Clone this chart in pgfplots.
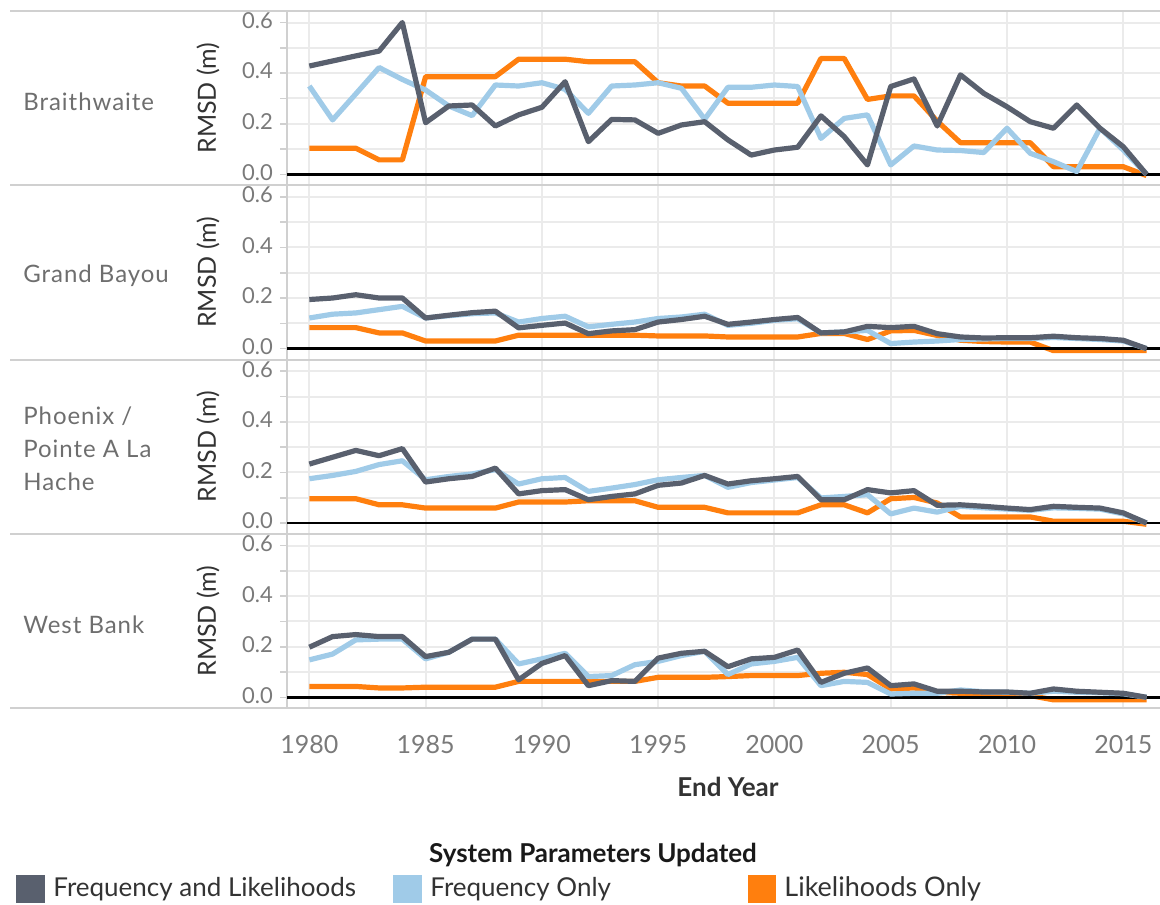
\documentclass[border=0pt]{standalone}
\usepackage{fontspec}
\setmainfont{Lato}
\newfontfamily\rowfont[LetterSpace=4]{Lato}
\usepackage{pgfplots}
\usepackage{pgfplotstable}
\pgfplotsset{compat=1.18}

\definecolor{cfl}{HTML}{59606E}
\definecolor{cfo}{HTML}{A0CBE8}
\definecolor{clo}{HTML}{FF7F0E}
\definecolor{gridc}{HTML}{EBEBEB}
\definecolor{sepc}{HTML}{D0D0D0}
\definecolor{tickc}{HTML}{7A7A7A}
\definecolor{rowc}{HTML}{6E6E6E}
\definecolor{titc}{HTML}{333333}

% Braithwaite
\pgfplotstableread{
year fl fo lo
1980 0.428 0.349 0.103
1981 0.448 0.215 0.103
1982 0.468 0.318 0.103
1983 0.487 0.422 0.057
1984 0.600 0.375 0.057
1985 0.204 0.333 0.386
1986 0.270 0.270 0.386
1987 0.274 0.232 0.386
1988 0.191 0.353 0.386
1989 0.235 0.349 0.455
1990 0.265 0.362 0.455
1991 0.366 0.336 0.455
1992 0.129 0.241 0.445
1993 0.217 0.349 0.445
1994 0.215 0.353 0.445
1995 0.162 0.362 0.362
1996 0.195 0.340 0.349
1997 0.208 0.218 0.349
1998 0.136 0.344 0.281
1999 0.076 0.344 0.281
2000 0.096 0.353 0.281
2001 0.107 0.347 0.281
2002 0.231 0.142 0.458
2003 0.149 0.221 0.458
2004 0.037 0.235 0.296
2005 0.347 0.037 0.310
2006 0.377 0.112 0.310
2007 0.191 0.096 0.210
2008 0.393 0.094 0.125
2009 0.320 0.086 0.125
2010 0.267 0.182 0.125
2011 0.208 0.083 0.125
2012 0.182 0.050 0.030
2013 0.274 0.011 0.030
2014 0.182 0.182 0.030
2015 0.109 0.096 0.030
2016 0.000 0.000 -0.005
}\dataA

% Grand Bayou
\pgfplotstableread{
year fl fo lo
1980 0.194 0.121 0.083
1981 0.200 0.136 0.083
1982 0.213 0.141 0.083
1983 0.200 0.154 0.062
1984 0.200 0.167 0.062
1985 0.121 0.121 0.030
1986 0.132 0.130 0.030
1987 0.142 0.138 0.030
1988 0.148 0.141 0.030
1989 0.082 0.105 0.053
1990 0.092 0.119 0.053
1991 0.101 0.128 0.053
1992 0.059 0.086 0.053
1993 0.070 0.096 0.053
1994 0.075 0.105 0.053
1995 0.105 0.119 0.050
1996 0.115 0.125 0.050
1997 0.128 0.136 0.050
1998 0.096 0.092 0.046
1999 0.105 0.100 0.046
2000 0.115 0.112 0.046
2001 0.123 0.118 0.046
2002 0.062 0.062 0.060
2003 0.066 0.066 0.060
2004 0.088 0.072 0.036
2005 0.083 0.020 0.070
2006 0.088 0.026 0.072
2007 0.059 0.030 0.052
2008 0.046 0.036 0.033
2009 0.042 0.038 0.028
2010 0.043 0.040 0.026
2011 0.043 0.040 0.026
2012 0.049 0.044 -0.008
2013 0.043 0.040 -0.008
2014 0.040 0.036 -0.008
2015 0.033 0.030 -0.008
2016 0.000 0.000 -0.008
}\dataB

% Phoenix / Pointe A La Hache
\pgfplotstableread{
year fl fo lo
1980 0.233 0.175 0.096
1981 0.260 0.188 0.096
1982 0.287 0.204 0.096
1983 0.266 0.231 0.072
1984 0.294 0.246 0.072
1985 0.162 0.171 0.059
1986 0.175 0.184 0.059
1987 0.184 0.194 0.059
1988 0.217 0.211 0.059
1989 0.115 0.154 0.083
1990 0.128 0.175 0.083
1991 0.132 0.180 0.083
1992 0.092 0.125 0.088
1993 0.105 0.138 0.088
1994 0.115 0.152 0.088
1995 0.149 0.171 0.062
1996 0.158 0.180 0.062
1997 0.188 0.188 0.062
1998 0.154 0.141 0.040
1999 0.167 0.160 0.040
2000 0.175 0.170 0.040
2001 0.184 0.180 0.040
2002 0.092 0.099 0.072
2003 0.092 0.105 0.072
2004 0.132 0.112 0.040
2005 0.119 0.036 0.096
2006 0.128 0.059 0.101
2007 0.070 0.043 0.079
2008 0.072 0.066 0.024
2009 0.066 0.060 0.024
2010 0.059 0.055 0.024
2011 0.053 0.050 0.024
2012 0.066 0.060 0.007
2013 0.062 0.058 0.007
2014 0.059 0.055 0.007
2015 0.040 0.036 0.007
2016 0.000 0.000 -0.005
}\dataC

% West Bank
\pgfplotstableread{
year fl fo lo
1980 0.198 0.148 0.043
1981 0.240 0.171 0.043
1982 0.248 0.227 0.043
1983 0.240 0.230 0.037
1984 0.240 0.230 0.037
1985 0.161 0.152 0.040
1986 0.178 0.178 0.040
1987 0.230 0.230 0.040
1988 0.230 0.230 0.040
1989 0.069 0.132 0.063
1990 0.134 0.152 0.063
1991 0.165 0.174 0.063
1992 0.046 0.082 0.063
1993 0.066 0.086 0.063
1994 0.063 0.129 0.063
1995 0.155 0.142 0.079
1996 0.174 0.165 0.079
1997 0.182 0.182 0.079
1998 0.121 0.090 0.082
1999 0.152 0.132 0.086
2000 0.158 0.142 0.086
2001 0.187 0.158 0.086
2002 0.059 0.046 0.095
2003 0.095 0.063 0.099
2004 0.116 0.059 0.090
2005 0.046 0.013 0.033
2006 0.053 0.016 0.037
2007 0.024 0.016 0.020
2008 0.024 0.029 0.016
2009 0.021 0.022 0.013
2010 0.021 0.020 0.013
2011 0.016 0.016 0.007
2012 0.033 0.024 -0.010
2013 0.024 0.020 -0.010
2014 0.020 0.018 -0.010
2015 0.016 0.014 -0.010
2016 0.000 0.000 -0.010
}\dataD

\pgfplotsset{panel/.style={
  anchor=north west, width=436.5pt, height=87pt, scale only axis,
  xmin=1979.04, xmax=2016.58, ymin=-0.0423, ymax=0.6455,
  axis lines*=left,
  x axis line style={draw=none},
  y axis line style={draw=sepc, line width=1pt},
  xtick={1980,1985,1990,1995,2000,2005,2010,2015},
  ytick={0,0.2,0.4,0.6}, minor ytick={0.1,0.3,0.5},
  yticklabels={0.0,0.2,0.4,0.6}, xticklabels={},
  grid=both,
  major grid style={draw=gridc, line width=1pt},
  minor grid style={draw=gridc, line width=1pt},
  tick style={draw=sepc, line width=0.8pt},
  xtick style={draw=none},
  tick align=outside, major tick length=3.5pt, minor tick length=3.5pt,
  yticklabel style={font=\fontsize{11}{12}\selectfont, text=tickc, yshift=1pt},
  ylabel={RMSD (m)},
  ylabel style={at={(axis description cs:-0.0905,0.5)}, anchor=center, font=\fontsize{12.5}{14}\selectfont, text=titc},
  clip=false,
  every axis plot/.append style={line width=2.6pt, line join=round, no markers},
}}

\newcommand{\panelplots}[1]{%
  \addplot[clo] table[x=year,y=lo]{#1};
  \addplot[black, line width=1.2pt] coordinates {(1979.04,0) (2016.58,0)};
  \addplot[cfo] table[x=year,y=fo]{#1};
  \addplot[cfl] table[x=year,y=fl]{#1};
}

\begin{document}
\begin{tikzpicture}
\useasboundingbox (0,0) rectangle (580pt,-452pt);

\begin{axis}[panel, at={(143.5pt,-5.5pt)}]
\panelplots{\dataA}
\node[anchor=west, inner sep=0pt, text=rowc, font=\rowfont\fontsize{12}{16.5}\selectfont] at (axis description cs:-0.3024,0.48) {Braithwaite};
\end{axis}

\begin{axis}[panel, at={(143.5pt,-92.65pt)}]
\panelplots{\dataB}
\node[anchor=west, inner sep=0pt, text=rowc, font=\rowfont\fontsize{12}{16.5}\selectfont] at (axis description cs:-0.3024,0.48) {Grand Bayou};
\end{axis}

\begin{axis}[panel, at={(143.5pt,-179.85pt)}]
\panelplots{\dataC}
\node[anchor=west, inner sep=0pt, align=left, text=rowc, font=\rowfont\fontsize{12}{16.5}\selectfont] at (axis description cs:-0.3024,0.49) {Phoenix /\\Pointe A La\\Hache};
\end{axis}

\begin{axis}[panel, at={(143.5pt,-267pt)},
  xticklabels={1980,1985,1990,1995,2000,2005,2010,2015},
  xticklabel style={font=\fontsize{12.5}{14}\selectfont, text=tickc, yshift=-6.5pt}]
\panelplots{\dataD}
\node[anchor=west, inner sep=0pt, text=rowc, font=\rowfont\fontsize{12}{16.5}\selectfont] at (axis description cs:-0.3024,0.48) {West Bank};
\end{axis}

% separators
\foreach \yy in {5.5,92.65,179.85,267,354}{
  \draw[sepc, line width=1pt] (5pt,-\yy pt) -- (580pt,-\yy pt);
}

% axis title
\node[font=\bfseries\fontsize{13}{15}\selectfont, text=titc] at (364pt,-393.5pt) {End Year};

% legend
\node[font=\bfseries\fontsize{13}{15}\selectfont, text=black!90] at (296.5pt,-427.5pt) {System Parameters Updated};
\fill[cfl] (8pt,-437.5pt) rectangle (22.5pt,-451.5pt);
\fill[cfo] (196.5pt,-437.5pt) rectangle (211pt,-451.5pt);
\fill[clo] (374pt,-437.5pt) rectangle (388pt,-451.5pt);
\node[anchor=west, font=\fontsize{13}{15}\selectfont, text=titc, inner sep=0pt] at (26.5pt,-444.5pt) {Frequency and Likelihoods};
\node[anchor=west, font=\fontsize{13}{15}\selectfont, text=titc, inner sep=0pt] at (215pt,-444.5pt) {Frequency Only};
\node[anchor=west, font=\fontsize{13.5}{15}\selectfont, text=titc, inner sep=0pt] at (392pt,-444.5pt) {Likelihoods Only};
\end{tikzpicture}
\end{document}
